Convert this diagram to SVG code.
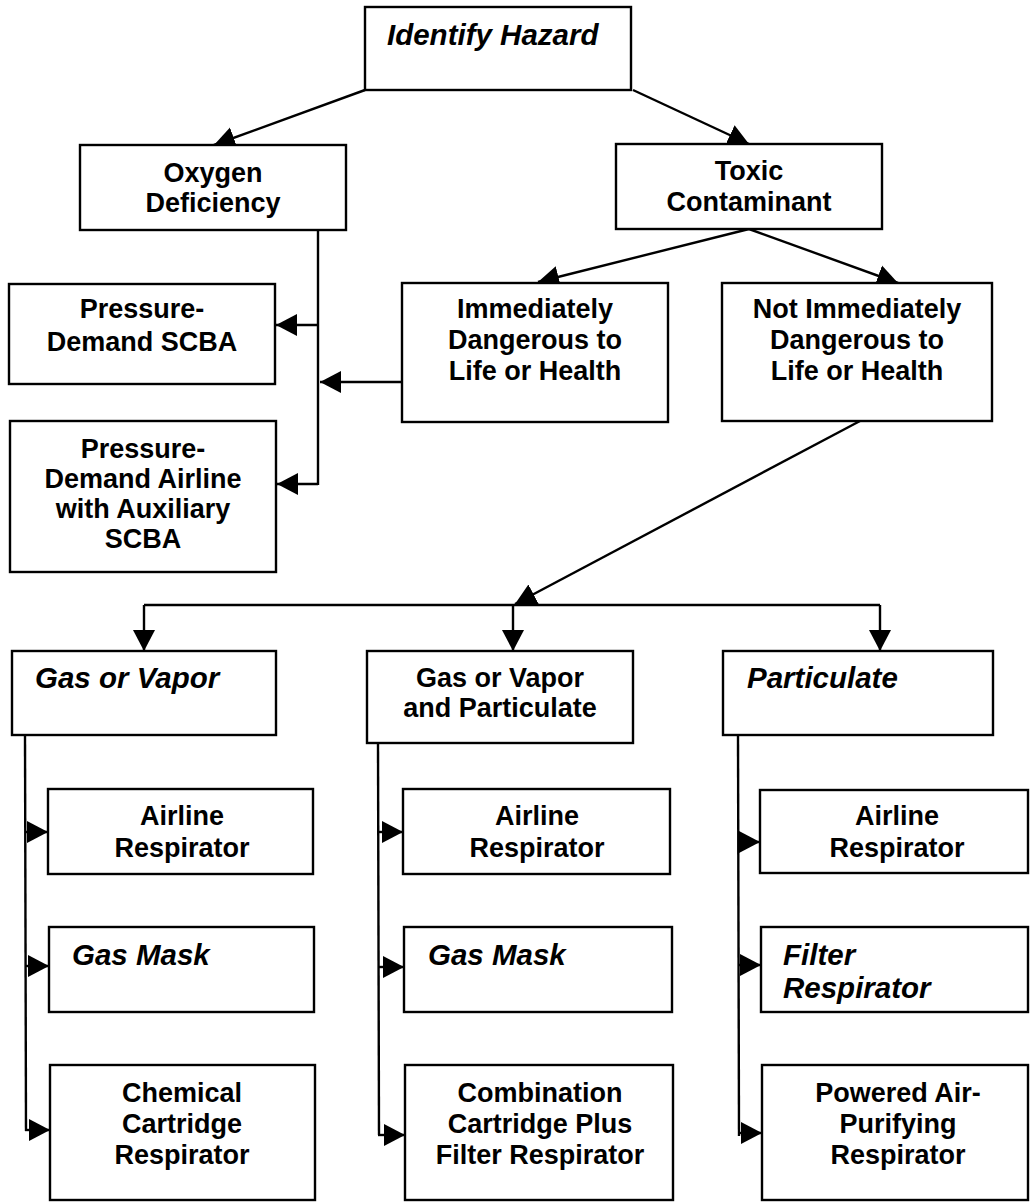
<svg xmlns="http://www.w3.org/2000/svg" width="1030" height="1203" viewBox="0 0 1030 1203">
<style>
.box{fill:#fff;stroke:#000;stroke-width:2.4}
.t{font-family:"Liberation Sans",Arial,sans-serif;font-weight:bold;font-size:27px;text-anchor:middle;fill:#000}
.i{font-family:"Liberation Sans",Arial,sans-serif;font-weight:bold;font-style:italic;font-size:29.5px;fill:#000}
.c line{stroke:#000;stroke-width:2.4;fill:none}
.a{marker-end:url(#ah)}
</style>
<defs>
<marker id="ah" markerWidth="24" markerHeight="24" refX="21" refY="12" orient="auto" markerUnits="userSpaceOnUse"><path d="M0,1 L21,12 L0,23 Z" fill="#000"/></marker>
</defs>
<rect width="1030" height="1203" fill="#fff"/>
<g class="c" id="connectors">
<line class="a" x1="365" y1="90" x2="214" y2="145"/>
<line class="a" x1="633" y1="90" x2="749" y2="144"/>
<line x1="318" y1="230" x2="318" y2="485"/>
<line class="a" x1="318" y1="325" x2="276" y2="325"/>
<line class="a" x1="318" y1="484" x2="277" y2="484"/>
<line class="a" x1="402" y1="382" x2="320" y2="382"/>
<line class="a" x1="749" y1="229" x2="538" y2="282"/>
<line class="a" x1="749" y1="229" x2="898" y2="283"/>
<line class="a" x1="860" y1="421" x2="515" y2="604"/>
<line x1="144" y1="605" x2="880" y2="605"/>
<line class="a" x1="144" y1="605" x2="144" y2="651"/>
<line class="a" x1="513" y1="605" x2="513" y2="651"/>
<line class="a" x1="880" y1="605" x2="880" y2="651"/>
<line x1="25" y1="735" x2="26" y2="1131"/>
<line x1="378" y1="743" x2="379" y2="1135"/>
<line x1="738" y1="735" x2="739" y2="1136"/>
<line class="a" x1="25" y1="832" x2="48" y2="832"/>
<line class="a" x1="25" y1="966" x2="49" y2="966"/>
<line class="a" x1="25" y1="1130" x2="50" y2="1130"/>
<line class="a" x1="378" y1="832" x2="403" y2="832"/>
<line class="a" x1="378" y1="967" x2="404" y2="967"/>
<line class="a" x1="378" y1="1135" x2="405" y2="1135"/>
<line class="a" x1="738" y1="842" x2="760" y2="842"/>
<line class="a" x1="738" y1="965" x2="761" y2="965"/>
<line class="a" x1="738" y1="1133" x2="762" y2="1133"/>
</g>
<g id="identify"><rect class="box" x="365" y="7" width="266" height="83"/><text class="i" x="387" y="45">Identify Hazard</text></g>
<g id="oxygen"><rect class="box" x="80" y="145" width="266" height="85"/><text class="t" x="213" y="182">Oxygen</text><text class="t" x="213" y="212">Deficiency</text></g>
<g id="toxic"><rect class="box" x="616" y="144" width="266" height="85"/><text class="t" x="749" y="180">Toxic</text><text class="t" x="749" y="211">Contaminant</text></g>
<g id="pd-scba"><rect class="box" x="9" y="284" width="266" height="100"/><text class="t" x="142" y="318">Pressure-</text><text class="t" x="142" y="351">Demand SCBA</text></g>
<g id="pd-airline"><rect class="box" x="10" y="421" width="266" height="151"/><text class="t" x="143" y="458">Pressure-</text><text class="t" x="143" y="488">Demand Airline</text><text class="t" x="143" y="518">with Auxiliary</text><text class="t" x="143" y="548">SCBA</text></g>
<g id="idlh"><rect class="box" x="402" y="283" width="266" height="139"/><text class="t" x="535" y="318">Immediately</text><text class="t" x="535" y="349">Dangerous to</text><text class="t" x="535" y="380">Life or Health</text></g>
<g id="not-idlh"><rect class="box" x="722" y="283" width="270" height="138"/><text class="t" x="857" y="318">Not Immediately</text><text class="t" x="857" y="349">Dangerous to</text><text class="t" x="857" y="380">Life or Health</text></g>
<g id="gas-vapor"><rect class="box" x="12" y="651" width="264" height="84"/><text class="i" x="35" y="688">Gas or Vapor</text></g>
<g id="gas-vapor-part"><rect class="box" x="367" y="651" width="266" height="92"/><text class="t" x="500" y="687">Gas or Vapor</text><text class="t" x="500" y="717">and Particulate</text></g>
<g id="particulate"><rect class="box" x="723" y="651" width="270" height="84"/><text class="i" x="747" y="688">Particulate</text></g>
<g id="c1-airline"><rect class="box" x="48" y="789" width="265" height="85"/><text class="t" x="182" y="825">Airline</text><text class="t" x="182" y="857">Respirator</text></g>
<g id="c1-gasmask"><rect class="box" x="49" y="927" width="265" height="85"/><text class="i" x="72" y="965">Gas Mask</text></g>
<g id="c1-chemical"><rect class="box" x="50" y="1065" width="265" height="135"/><text class="t" x="182" y="1102">Chemical</text><text class="t" x="182" y="1133">Cartridge</text><text class="t" x="182" y="1164">Respirator</text></g>
<g id="c2-airline"><rect class="box" x="403" y="789" width="267" height="85"/><text class="t" x="537" y="825">Airline</text><text class="t" x="537" y="857">Respirator</text></g>
<g id="c2-gasmask"><rect class="box" x="404" y="927" width="268" height="85"/><text class="i" x="428" y="965">Gas Mask</text></g>
<g id="c2-combination"><rect class="box" x="405" y="1065" width="268" height="135"/><text class="t" x="540" y="1102">Combination</text><text class="t" x="540" y="1133">Cartridge Plus</text><text class="t" x="540" y="1164">Filter Respirator</text></g>
<g id="c3-airline"><rect class="box" x="760" y="790" width="268" height="83"/><text class="t" x="897" y="825">Airline</text><text class="t" x="897" y="857">Respirator</text></g>
<g id="c3-filter"><rect class="box" x="761" y="927" width="267" height="85"/><text class="i" x="783" y="965">Filter</text><text class="i" x="783" y="998">Respirator</text></g>
<g id="c3-powered"><rect class="box" x="762" y="1065" width="266" height="135"/><text class="t" x="898" y="1102">Powered Air-</text><text class="t" x="898" y="1133">Purifying</text><text class="t" x="898" y="1164">Respirator</text></g>
</svg>
